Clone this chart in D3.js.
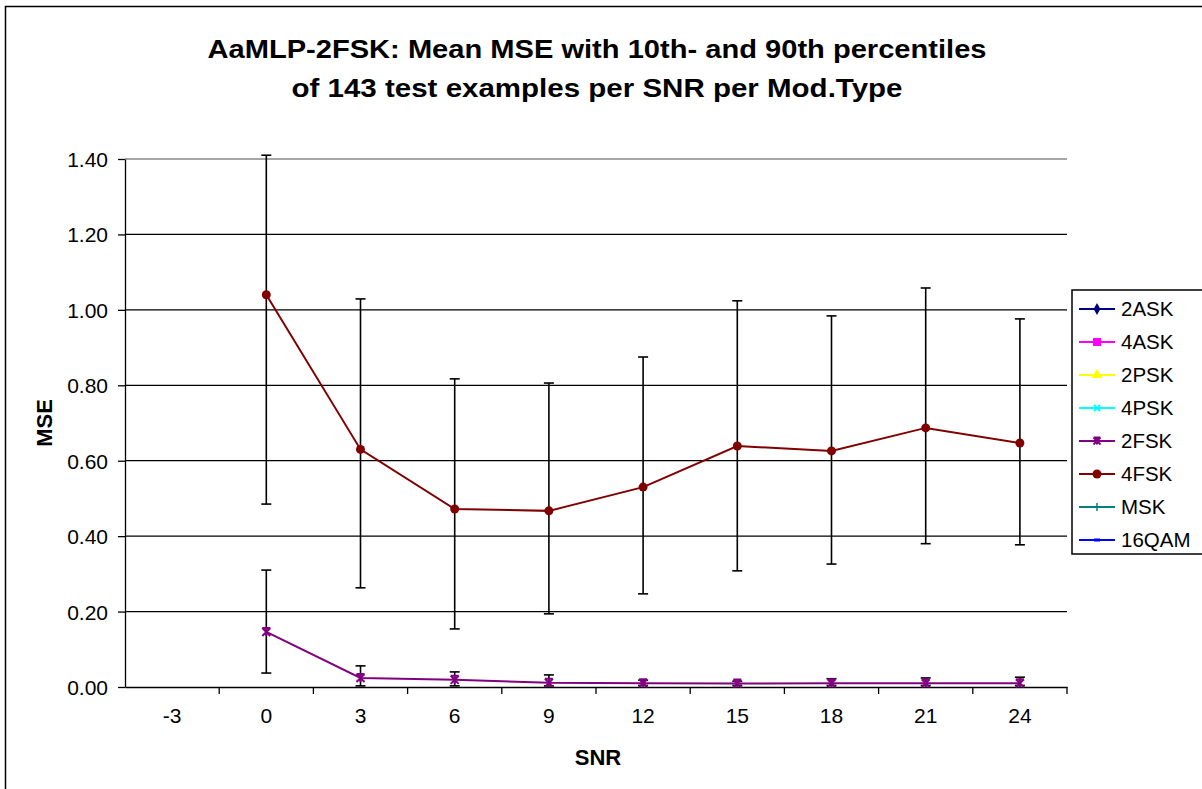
<!DOCTYPE html>
<html>
<head>
<meta charset="utf-8">
<script src="https://cdn.jsdelivr.net/npm/d3@7"></script>
<style>
  body { margin: 0; background: #fff; }
  text { font-family: Arial, "Liberation Sans", sans-serif; }
</style>
</head>
<body>
<div id="chart"></div>
<script>
// categories and values
var snr = ["-3", "0", "3", "6", "9", "12", "15", "18", "21", "24"];
var yTicks = [0, 0.2, 0.4, 0.6, 0.8, 1.0, 1.2, 1.4];

var fsk4Snr  = ["0", "3", "6", "9", "12", "15", "18", "21", "24"];
var fsk4Mean = [1.04, 0.63, 0.472, 0.467, 0.53, 0.639, 0.626, 0.687, 0.647];
var fsk4P10  = [0.485, 0.263, 0.154, 0.194, 0.247, 0.308, 0.326, 0.38, 0.377];
var fsk4P90  = [1.41, 1.029, 0.817, 0.806, 0.875, 1.024, 0.984, 1.058, 0.976];

var fsk2Snr  = ["0", "3", "6", "9", "12", "15", "18", "21", "24"];
var fsk2Mean = [0.146, 0.024, 0.019, 0.011, 0.010, 0.009, 0.010, 0.010, 0.010];
var fsk2P10  = [0.037, 0.003, 0.003, 0.003, 0.004, 0.004, 0.004, 0.004, 0.004];
var fsk2P90  = [0.31, 0.056, 0.040, 0.032, 0.018, 0.015, 0.022, 0.024, 0.026];

var legendNames  = ["2ASK", "4ASK", "2PSK", "4PSK", "2FSK", "4FSK", "MSK", "16QAM"];
var legendColors = ["#000080", "#FF00FF", "#FFFF00", "#00FFFF", "#800080", "#800000", "#008080", "#0000FF"];

var W = 1202, H = 789;
var margin = {top: 159, right: 135, bottom: 102, left: 125},
    width = W - margin.left - margin.right,
    height = H - margin.top - margin.bottom;

var svg = d3.select("#chart")
  .append("svg")
    .attr("width", W)
    .attr("height", H);

// outer frame
svg.append("rect")
  .attr("x", 5.5).attr("y", 6.5)
  .attr("width", W).attr("height", H)
  .attr("fill", "none").attr("stroke", "#000").attr("stroke-width", 1.5);

// title (the original is a bit stretched horizontally)
svg.append("text")
  .attr("x", 597).attr("y", 58)
  .attr("text-anchor", "middle")
  .attr("textLength", 779).attr("lengthAdjust", "spacingAndGlyphs")
  .style("font-size", "25px").style("font-weight", "bold")
  .text("AaMLP-2FSK: Mean MSE with 10th- and 90th percentiles");
svg.append("text")
  .attr("x", 597).attr("y", 97)
  .attr("text-anchor", "middle")
  .attr("textLength", 611).attr("lengthAdjust", "spacingAndGlyphs")
  .style("font-size", "25px").style("font-weight", "bold")
  .text("of 143 test examples per SNR per Mod.Type");

var g = svg.append("g")
  .attr("transform", "translate(" + margin.left + "," + margin.top + ")");

var x = d3.scaleBand()
  .domain(snr)
  .range([0, width]);

var y = d3.scaleLinear()
  .domain([0, 1.4])
  .range([height, 0]);

// gridlines
g.append("g")
  .selectAll("line")
  .data(yTicks.slice(1))
  .enter()
  .append("line")
    .attr("x1", 0).attr("x2", width)
    .attr("y1", d => y(d)).attr("y2", d => y(d))
    .attr("stroke", d => d === 1.4 ? "#888" : "#000")
    .attr("stroke-width", 1.3);

// Y axis
var yAxis = g.append("g")
  .call(d3.axisLeft(y).tickValues(yTicks).tickFormat(d3.format(".2f")).tickSize(7).tickSizeOuter(0));
yAxis.select(".domain").attr("stroke-width", 1.3);
yAxis.selectAll("line").attr("stroke-width", 1.3);
yAxis.selectAll("text")
  .attr("x", -17)
  .attr("dy", "0.36em")
  .style("font-size", "21px")
  .style("font-family", "Arial, 'Liberation Sans', sans-serif");

// X axis: ticks between categories
var xAxis = g.append("g")
  .attr("transform", "translate(0," + height + ")")
  .call(d3.axisBottom(x).tickSize(0).tickSizeOuter(0).tickPadding(21));
xAxis.select(".domain").attr("stroke-width", 1.3);
xAxis.selectAll("text")
  .style("font-size", "21px")
  .style("font-family", "Arial, 'Liberation Sans', sans-serif");
g.append("g")
  .selectAll("line")
  .data(snr)
  .enter()
  .append("line")
    .attr("x1", d => x(d) + x.bandwidth())
    .attr("x2", d => x(d) + x.bandwidth())
    .attr("y1", height).attr("y2", height + 7)
    .attr("stroke", "#000").attr("stroke-width", 1.3);

// axis titles
svg.append("text")
  .attr("x", 598).attr("y", 765)
  .attr("text-anchor", "middle")
  .style("font-size", "22px").style("font-weight", "bold")
  .text("SNR");
svg.append("text")
  .attr("transform", "translate(52," + (margin.top + height / 2) + ") rotate(-90)")
  .attr("text-anchor", "middle")
  .style("font-size", "22px").style("font-weight", "bold")
  .text("MSE");

var cx = d => x(d) + x.bandwidth() / 2;

function errorBars(cats, lo, hi) {
  var eb = g.append("g").attr("stroke", "#000").attr("stroke-width", 1.6);
  cats.forEach(function(c, i) {
    eb.append("line")
      .attr("x1", cx(c)).attr("x2", cx(c))
      .attr("y1", y(lo[i])).attr("y2", y(hi[i]));
    [lo[i], hi[i]].forEach(function(v) {
      eb.append("line")
        .attr("x1", cx(c) - 5).attr("x2", cx(c) + 5)
        .attr("y1", y(v)).attr("y2", y(v));
    });
  });
}

function starPath(s) {
  return "M" + (-s) + "," + (-s) + "L" + s + "," + s +
         "M" + (-s) + "," + s + "L" + s + "," + (-s) +
         "M0," + (-s) + "L0," + s +
         "M" + (-s) + "," + (-s) + "L" + s + "," + (-s);
}

var line = d3.line().x(d => cx(d[0])).y(d => y(d[1]));

// 2FSK
errorBars(fsk2Snr, fsk2P10, fsk2P90);
g.append("path")
  .datum(fsk2Snr.map((c, i) => [c, fsk2Mean[i]]))
  .attr("fill", "none").attr("stroke", "#800080").attr("stroke-width", 2)
  .attr("d", line);
g.append("g")
  .selectAll("path")
  .data(fsk2Snr.map((c, i) => [c, fsk2Mean[i]]))
  .enter()
  .append("path")
    .attr("transform", d => "translate(" + cx(d[0]) + "," + y(d[1]) + ")")
    .attr("d", starPath(4))
    .attr("fill", "none").attr("stroke", "#800080").attr("stroke-width", 2);

// 4FSK
errorBars(fsk4Snr, fsk4P10, fsk4P90);
g.append("path")
  .datum(fsk4Snr.map((c, i) => [c, fsk4Mean[i]]))
  .attr("fill", "none").attr("stroke", "#800000").attr("stroke-width", 2)
  .attr("d", line);
g.append("g")
  .selectAll("circle")
  .data(fsk4Snr.map((c, i) => [c, fsk4Mean[i]]))
  .enter()
  .append("circle")
    .attr("cx", d => cx(d[0]))
    .attr("cy", d => y(d[1]))
    .attr("r", 4.5)
    .attr("fill", "#800000");

// legend
var legend = svg.append("g").attr("transform", "translate(1072,290)");
legend.append("rect")
  .attr("x", 0).attr("y", 0)
  .attr("width", 140).attr("height", 264)
  .attr("fill", "#fff").attr("stroke", "#000").attr("stroke-width", 1.5);

var markers = [
  (s, c) => s.append("path").attr("d", d3.symbol(d3.symbolDiamond, 40)()).attr("fill", c),
  (s, c) => s.append("rect").attr("x", -4).attr("y", -4).attr("width", 8).attr("height", 8).attr("fill", c),
  (s, c) => s.append("path").attr("d", d3.symbol(d3.symbolTriangle, 50)()).attr("fill", c),
  (s, c) => s.append("path").attr("d", "M-3,-3L3,3M-3,3L3,-3").attr("stroke", c).attr("stroke-width", 2),
  (s, c) => s.append("path").attr("d", starPath(3.5)).attr("fill", "none").attr("stroke", c).attr("stroke-width", 2),
  (s, c) => s.append("circle").attr("r", 4.5).attr("fill", c),
  (s, c) => s.append("path").attr("d", "M0,-4L0,4").attr("stroke", c).attr("stroke-width", 1.5),
  (s, c) => s.append("path").attr("d", "M-3,0L3,0").attr("stroke", c).attr("stroke-width", 3)
];

legendNames.forEach(function(name, i) {
  var row = legend.append("g").attr("transform", "translate(0," + (19 + i * 33) + ")");
  row.append("line")
    .attr("x1", 7).attr("x2", 43)
    .attr("y1", 0).attr("y2", 0)
    .attr("stroke", legendColors[i]).attr("stroke-width", 2);
  markers[i](row.append("g").attr("transform", "translate(25,0)"), legendColors[i]);
  row.append("text")
    .attr("x", 49).attr("y", 7)
    .style("font-size", "20.5px")
    .text(name);
});
</script>
</body>
</html>
